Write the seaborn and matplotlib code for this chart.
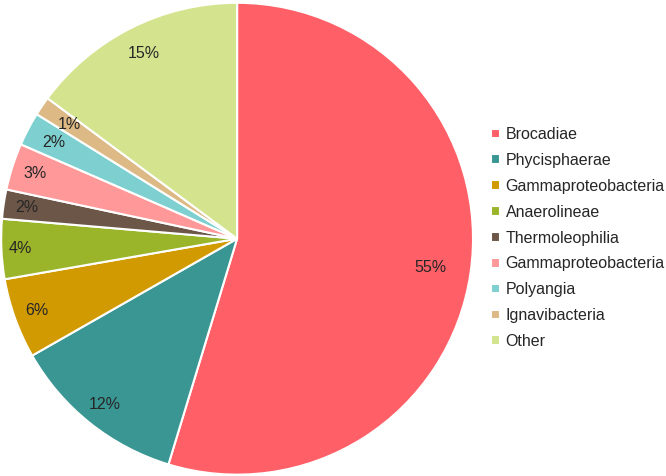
import matplotlib
matplotlib.use("Agg")
import matplotlib.pyplot as plt
import seaborn as sns
import numpy as np

# data
classes = ["Brocadiae", "Phycisphaerae", "Gammaproteobacteria", "Anaerolineae",
           "Thermoleophilia", "Gammaproteobacteria", "Polyangia", "Ignavibacteria", "Other"]
shares = [54.7, 12.05, 5.5, 4.1, 2.0, 3.2, 2.3, 1.3, 14.85]
pct_labels = ["55%", "12%", "6%", "4%", "2%", "3%", "2%", "1%", "15%"]
colors = ["#FF5F67", "#3A9693", "#D09A00", "#9AB52A", "#6B5647",
          "#FF9999", "#7ED0D0", "#DDB985", "#D4E38D"]

sns.set_theme(style="white")
plt.rcParams["font.family"] = ["Liberation Sans", "DejaVu Sans"]
palette = sns.color_palette(colors)

fig = plt.figure(figsize=(6.66, 4.76), dpi=100)
ax = fig.add_axes([0.0, 0.0, 0.712, 0.997])

wedges, _ = ax.pie(shares, colors=palette, startangle=90, counterclock=False,
                   wedgeprops=dict(edgecolor="white", linewidth=1.5))
ax.set_aspect("equal")
ax.set_xlim(-1.005, 1.005)
ax.set_ylim(-1.005, 1.005)

# percentage labels near the outer edge of each slice
for w, lab, r in zip(wedges, pct_labels, [0.83, 0.9, 0.9, 0.92, 0.9, 0.9, 0.88, 0.86, 0.88]):
    ang = np.deg2rad((w.theta1 + w.theta2) / 2)
    ax.text(r * np.cos(ang), r * np.sin(ang), lab, ha="center", va="center",
            fontsize=11.5, color="#262626", fontstyle="normal")

leg = fig.legend(wedges, classes, loc="center left", bbox_to_anchor=(0.728, 0.5),
                 frameon=False, fontsize=11.5, handlelength=0.55, handleheight=0.55,
                 handletextpad=0.35, labelspacing=0.68, borderaxespad=0)
for t in leg.get_texts():
    t.set_color("#262626")

fig.savefig("out.png", dpi=100)
